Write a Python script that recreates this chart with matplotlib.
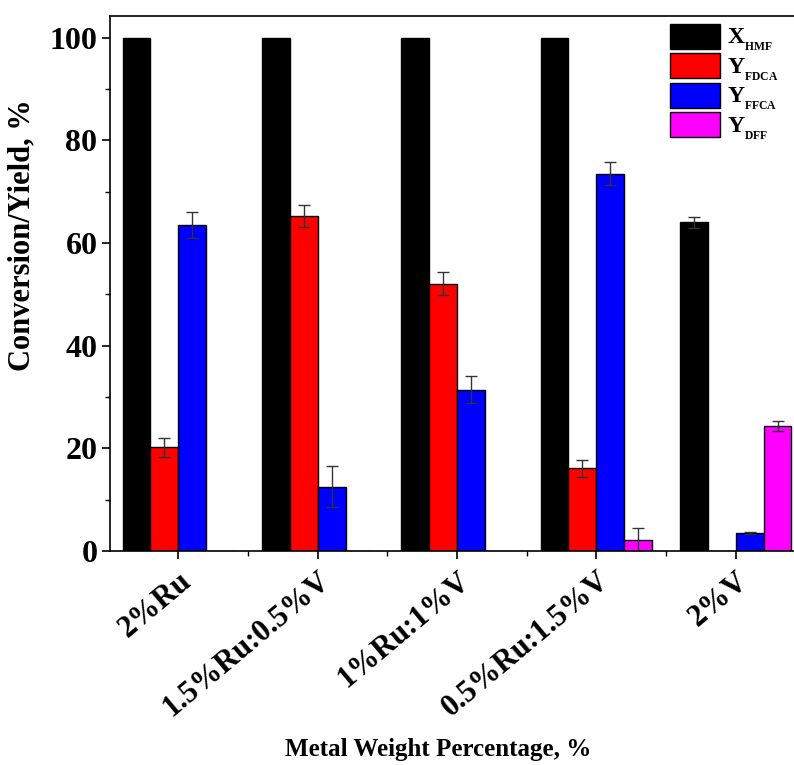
import numpy as np
import matplotlib
matplotlib.use('Agg')
import matplotlib.pyplot as plt
from matplotlib.ticker import MultipleLocator

plt.rcParams['font.family'] = 'Liberation Serif'
plt.rcParams['font.weight'] = 'bold'
plt.rcParams['mathtext.fontset'] = 'custom'
plt.rcParams['mathtext.rm'] = 'Liberation Serif:bold'
plt.rcParams['mathtext.bf'] = 'Liberation Serif:bold'

# data
groups = ['2%Ru', '1.5%Ru:0.5%V', '1%Ru:1%V', '0.5%Ru:1.5%V', '2%V']
x_hmf = [100, 100, 100, 100, 64]
x_hmf_err = [0, 0, 0, 0, 1.0]
y_fdca = [20.2, 65.2, 52.1, 16.1, 0]
y_fdca_err = [1.8, 2.1, 2.2, 1.6, 0]
y_ffca = [63.5, 12.5, 31.4, 73.5, 3.5]
y_ffca_err = [2.5, 4.0, 2.6, 2.3, 0.2]
y_dff = [0, 0, 0, 2.1, 24.3]
y_dff_err = [0, 0, 0, 2.3, 1.0]

series = [
    (x_hmf, x_hmf_err, 'black', r'X$_{{}_{\mathrm{HMF}}}$'),
    (y_fdca, y_fdca_err, 'red', r'Y$_{{}_{\mathrm{FDCA}}}$'),
    (y_ffca, y_ffca_err, 'blue', r'Y$_{{}_{\mathrm{FFCA}}}$'),
    (y_dff, y_dff_err, 'magenta', r'Y$_{{}_{\mathrm{DFF}}}$'),
]

fig = plt.figure(figsize=(7.94, 7.65), dpi=100)
ax = fig.add_axes([110 / 794, 1 - 551 / 765, 694 / 794, 535 / 765])

x = np.arange(len(groups))
w = 0.2
for i, (vals, errs, col, lab) in enumerate(series):
    pos = x + (i - 1.5) * w
    ax.bar(pos, vals, w, color=col, edgecolor='black', linewidth=1.0, label=lab)
    vals = np.array(vals)
    errs = np.array(errs)
    m = errs > 0
    ax.errorbar(pos[m], vals[m], yerr=errs[m], fmt='none', ecolor='#333333',
                elinewidth=1.0, capsize=4, capthick=1.0)

ax.set_xlim(-0.49, 4.49)
ax.set_ylim(0, 104.2)
ax.set_xticks(x)
ax.set_xticklabels(groups, rotation=40, ha='right', va='top', rotation_mode='anchor',
                   fontsize=22, fontweight='bold')
ax.xaxis.set_minor_locator(MultipleLocator(0.5))
ax.yaxis.set_major_locator(MultipleLocator(20))
ax.yaxis.set_minor_locator(MultipleLocator(10))
ax.tick_params(axis='both', which='major', direction='out', length=6, width=1.2)
ax.tick_params(axis='y', which='major', labelsize=23, pad=3)
ax.tick_params(axis='both', which='minor', direction='out', length=3.5, width=1.0)
ax.tick_params(axis='x', which='major', pad=5)
for lab in ax.get_yticklabels():
    lab.set_fontweight('bold')
for sp in ax.spines.values():
    sp.set_linewidth(1.2)

ax.set_ylabel('Conversion/Yield, %', fontsize=22, fontweight='bold')
ax.yaxis.set_label_coords(-0.127, 0.59)
ax.yaxis.label.set_va('center')
ax.set_xlabel('Metal Weight Percentage, %', fontsize=18, fontweight='bold')
ax.xaxis.set_label_coords(0.473, -0.35)

leg = ax.legend(loc='upper left', bbox_to_anchor=(558 / 694, 0.99), frameon=False,
                fontsize=17, handlelength=2.1, handleheight=1.25, handletextpad=0.3,
                labelspacing=0.0, borderpad=0.1, borderaxespad=0.0)

fig.savefig('out.png', dpi=100)
